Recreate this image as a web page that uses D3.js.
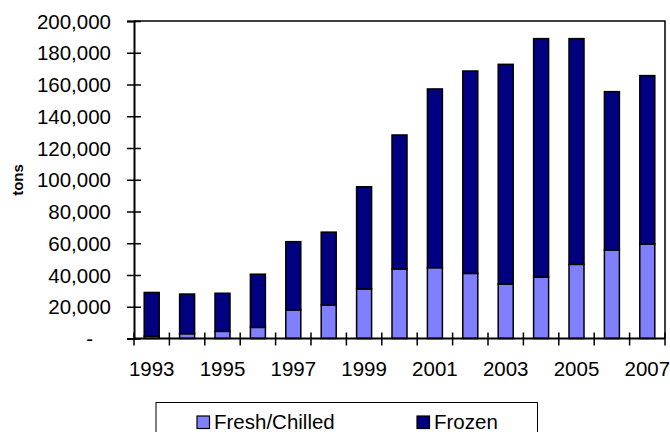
<!DOCTYPE html>
<meta charset="utf-8">
<style>
body { margin: 0; background: #fff; }
text { font-family: Arial, "Liberation Sans", sans-serif; fill: #000; }
</style>
<body>
<script src="https://d3js.org/d3.v7.min.js"></script>
<script>
// data (tons)
var years = ["1993","1994","1995","1996","1997","1998","1999","2000","2001","2002","2003","2004","2005","2006","2007"];
var fresh = [1500, 3000, 4500, 7000, 18000, 21000, 31200, 43800, 44600, 41000, 34300, 38700, 46700, 55800, 59500];
var total = [29000, 28000, 28500, 40500, 61000, 67000, 95600, 128200, 157200, 168500, 172700, 188900, 188900, 155500, 165600];
var frozen = total.map(function(t, i) { return t - fresh[i]; });
var seriesNames = ["Fresh/Chilled", "Frozen"];
var colors = ["#8080ff", "#000080"];
var yTicks = [0, 20000, 40000, 60000, 80000, 100000, 120000, 140000, 160000, 180000, 200000];
var xLabels = ["1993","1995","1997","1999","2001","2003","2005","2007"];

var width = 670, height = 432;
var plotL = 134, plotR = 665, plotT = 21, plotB = 338.5;
var fs = "20.5px";

var svg = d3.select("body").append("svg")
    .attr("width", width)
    .attr("height", height);

var x = d3.scaleBand().domain(years).range([plotL, plotR]).paddingInner(0).paddingOuter(0);
var y = d3.scaleLinear().domain([0, 200000]).range([plotB, plotT]);

var rows = years.map(function(yr, i) { return {year: yr, fresh: fresh[i], frozen: frozen[i]}; });
var stack = d3.stack().keys(["fresh", "frozen"])(rows);

var barW = 15;
var g = svg.append("g");
g.selectAll("g.series")
  .data(stack)
  .enter().append("g")
    .attr("fill", function(d, i) { return colors[i]; })
  .selectAll("rect")
  .data(function(d) { return d; })
  .enter().append("rect")
    .attr("x", function(d) { return x(d.data.year) + x.bandwidth() / 2 - barW / 2; })
    .attr("y", function(d) { return y(d[1]); })
    .attr("width", barW)
    .attr("height", function(d) { return y(d[0]) - y(d[1]); })
    .attr("stroke", "#000")
    .attr("stroke-width", 1.5);

// plot frame (top and right)
svg.append("path")
    .attr("d", "M" + plotL + "," + plotT + "H" + plotR + "V" + plotB)
    .attr("fill", "none")
    .attr("stroke", "#000")
    .attr("stroke-width", 1.5);

// y axis
var yAxis = svg.append("g")
    .attr("transform", "translate(" + plotL + ",0)")
    .call(d3.axisLeft(y).tickValues(yTicks).tickSize(7)
      .tickFormat(function(d) { return d === 0 ? "-" : d3.format(",")(d); }));
yAxis.select(".domain").attr("stroke-width", 2);
yAxis.selectAll(".tick line").attr("x2", 7).attr("x1", -7).attr("stroke-width", 1.5);
yAxis.selectAll(".tick text")
    .attr("x", -23)
    .style("font-size", fs)
    .attr("dy", "0.35em");
yAxis.selectAll(".tick text").filter(function(d) { return d === 0; }).attr("x", -41);

// x axis, ticks on category boundaries
var xAxis = svg.append("g")
    .attr("transform", "translate(0," + plotB + ")");
xAxis.append("line")
    .attr("x1", plotL).attr("x2", plotR)
    .attr("stroke", "#000").attr("stroke-width", 2);
xAxis.selectAll("line.tk")
    .data(years.concat(["end"]))
    .enter().append("line")
    .attr("class", "tk")
    .attr("x1", function(d, i) { return plotL + i * x.bandwidth(); })
    .attr("x2", function(d, i) { return plotL + i * x.bandwidth(); })
    .attr("y1", -6).attr("y2", 7)
    .attr("stroke", "#000").attr("stroke-width", 1.5);
xAxis.selectAll("text")
    .data(xLabels)
    .enter().append("text")
    .attr("x", function(d) { return x(d) + x.bandwidth() / 2; })
    .attr("y", 37)
    .attr("text-anchor", "middle")
    .style("font-size", fs)
    .text(function(d) { return d; });

// axis title
svg.append("text")
    .attr("transform", "translate(23,180) rotate(-90)")
    .attr("text-anchor", "middle")
    .style("font-size", "15px")
    .style("font-weight", "bold")
    .text("tons");

// legend
var lg = svg.append("g");
lg.append("rect")
    .attr("x", 156).attr("y", 402.5)
    .attr("width", 381.5).attr("height", 40)
    .attr("fill", "#fff").attr("stroke", "#000").attr("stroke-width", 1);
var items = lg.selectAll("g.item")
    .data(seriesNames)
    .enter().append("g")
    .attr("transform", function(d, i) { return "translate(" + (197 + i * 220) + ",416)"; });
items.append("rect")
    .attr("width", 12.5).attr("height", 12.5)
    .attr("fill", function(d, i) { return colors[i]; })
    .attr("stroke", "#000").attr("stroke-width", 1.2);
items.append("text")
    .attr("x", 17).attr("y", 13)
    .style("font-size", fs)
    .text(function(d) { return d; });
</script>
</body>
